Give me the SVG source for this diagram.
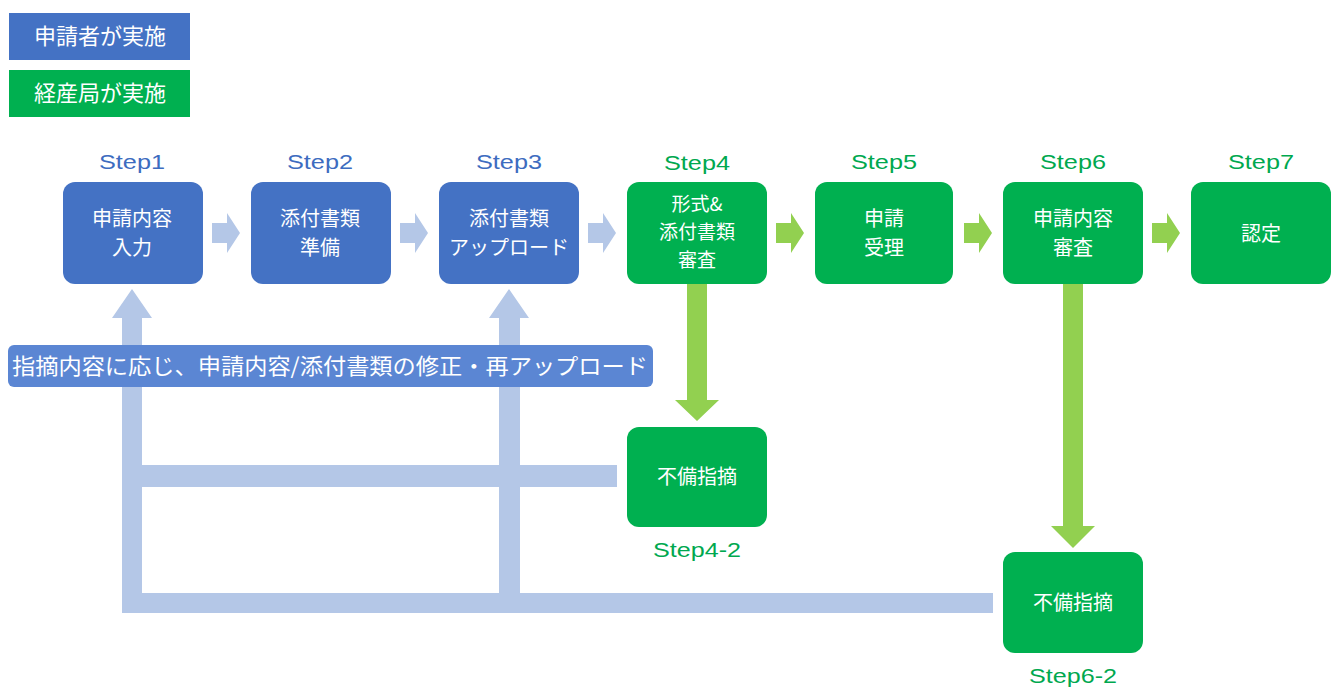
<svg xmlns="http://www.w3.org/2000/svg" width="1339" height="689" viewBox="0 0 1339 689">
<style>
.jp{font-family:"Noto Sans CJK JP","Noto Sans",sans-serif;fill:#fff;text-anchor:middle;font-size:20px}
.j3{font-size:19px}
.lg{font-family:"Noto Sans CJK JP",sans-serif;fill:#fff;text-anchor:middle;font-size:22px}
.st{font-family:"Liberation Sans","DejaVu Sans",sans-serif;text-anchor:middle;font-size:21px}
.sb{fill:#3d6cc0}
.sg{fill:#00a84f}
.bb{fill:#4472c4}
.gb{fill:#00b050}
.la{fill:#b4c7e7}
.ga{fill:#92d050}
</style>
<rect width="1339" height="689" fill="#fff"/>
<g id="legend">
<rect x="9" y="13" width="181" height="47" class="bb"/>
<text x="100" y="44" class="lg">申請者が実施</text>
<rect x="9" y="70" width="181" height="47" class="gb"/>
<text x="100" y="101" class="lg">経産局が実施</text>
</g>
<g id="connectors">
<path d="M212,223 H227 V213 L240,233 L227,253 V243 H212 Z" class="la"/>
<path d="M400,223 H415 V213 L428,233 L415,253 V243 H400 Z" class="la"/>
<path d="M588,223 H603 V213 L616,233 L603,253 V243 H588 Z" class="la"/>
<path d="M776,223 H791 V213 L804,233 L791,253 V243 H776 Z" class="ga"/>
<path d="M964,223 H979 V213 L992,233 L979,253 V243 H964 Z" class="ga"/>
<path d="M1152,223 H1167 V213 L1180,233 L1167,253 V243 H1152 Z" class="ga"/>
<path d="M687,284 H707 V400 H719 L697,421 L675,400 H687 Z" class="ga"/>
<path d="M1063,284 H1083 V526 H1095 L1073,548 L1051,526 H1063 Z" class="ga"/>
<rect x="142" y="465" width="475" height="22" class="la"/>
<rect x="122" y="593" width="871" height="20" class="la"/>
<path d="M122,613 V318 H112 L132,289 L152,318 H142 V613 Z" class="la"/>
<path d="M499,613 V318 H489 L509,289 L529,318 H520 V613 Z" class="la"/>
</g>
<g id="banner">
<rect x="8" y="345" width="645" height="42" rx="6" fill="#5b86d3"/>
<text x="12" y="374" font-family="'Noto Sans CJK JP',sans-serif" font-size="22" fill="#fff" textLength="636" lengthAdjust="spacingAndGlyphs">指摘内容に応じ、申請内容/添付書類の修正・再アップロード</text>
</g>
<g id="step1">
<text x="132" y="169" class="st sb" textLength="66" lengthAdjust="spacingAndGlyphs">Step1</text>
<rect x="63" y="182" width="140" height="102" rx="12" class="bb"/>
<text x="132" y="226" class="jp">申請内容<tspan x="132" dy="29">入力</tspan></text>
</g>
<g id="step2">
<text x="320" y="169" class="st sb" textLength="66" lengthAdjust="spacingAndGlyphs">Step2</text>
<rect x="251" y="182" width="140" height="102" rx="12" class="bb"/>
<text x="320" y="226" class="jp">添付書類<tspan x="320" dy="29">準備</tspan></text>
</g>
<g id="step3">
<text x="509" y="169" class="st sb" textLength="66" lengthAdjust="spacingAndGlyphs">Step3</text>
<rect x="439" y="182" width="140" height="102" rx="12" class="bb"/>
<text x="509" y="226" class="jp">添付書類<tspan x="509" dy="29">アップロード</tspan></text>
</g>
<g id="step4">
<text x="697" y="170" class="st sg" textLength="66" lengthAdjust="spacingAndGlyphs">Step4</text>
<rect x="627" y="182" width="140" height="102" rx="12" class="gb"/>
<text x="697" y="211" class="jp j3">形式&amp;<tspan x="697" dy="27.8">添付書類</tspan><tspan x="697" dy="27.8">審査</tspan></text>
</g>
<g id="step5">
<text x="884" y="169" class="st sg" textLength="66" lengthAdjust="spacingAndGlyphs">Step5</text>
<rect x="815" y="182" width="138" height="102" rx="12" class="gb"/>
<text x="884" y="226" class="jp">申請<tspan x="884" dy="29">受理</tspan></text>
</g>
<g id="step6">
<text x="1073" y="169" class="st sg" textLength="66" lengthAdjust="spacingAndGlyphs">Step6</text>
<rect x="1003" y="182" width="140" height="102" rx="12" class="gb"/>
<text x="1073" y="226" class="jp">申請内容<tspan x="1073" dy="29">審査</tspan></text>
</g>
<g id="step7">
<text x="1261" y="169" class="st sg" textLength="66" lengthAdjust="spacingAndGlyphs">Step7</text>
<rect x="1191" y="182" width="140" height="102" rx="12" class="gb"/>
<text x="1261" y="241" class="jp">認定</text>
</g>
<g id="step4-2">
<rect x="627" y="427" width="140" height="100" rx="12" class="gb"/>
<text x="697" y="484" class="jp">不備指摘</text>
<text x="697" y="557" class="st sg" textLength="88" lengthAdjust="spacingAndGlyphs">Step4-2</text>
</g>
<g id="step6-2">
<rect x="1003" y="552" width="140" height="101" rx="12" class="gb"/>
<text x="1073" y="610" class="jp">不備指摘</text>
<text x="1073" y="683" class="st sg" textLength="88" lengthAdjust="spacingAndGlyphs">Step6-2</text>
</g>
</svg>
